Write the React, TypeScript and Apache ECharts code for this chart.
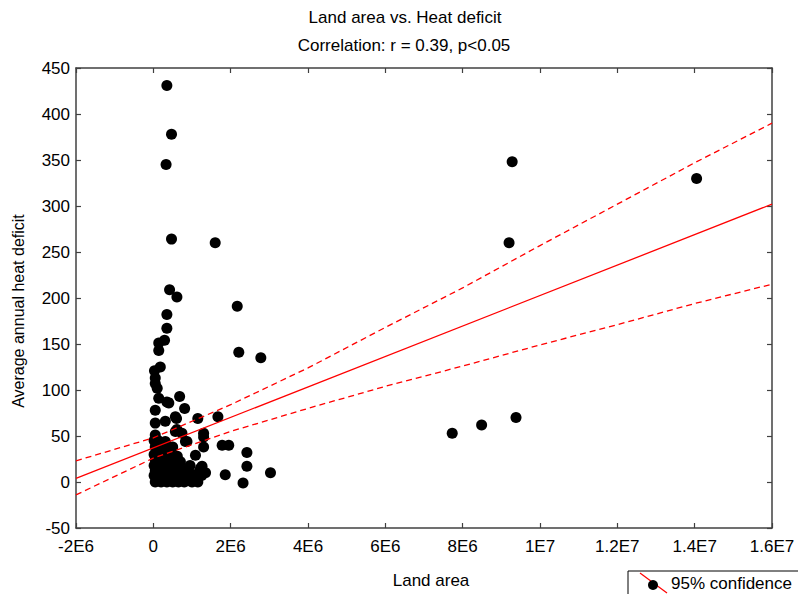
import React, { useEffect, useRef } from "react";
import * as echarts from "echarts";

// Scatter points: land area (raw units) and average annual heat deficit
const landArea: number[] = [
  0.35e6, 0.47e6, 0.33e6, 0.47e6, 1.6e6, 0.42e6, 0.61e6, 2.17e6, 0.35e6, 0.35e6,
  0.29e6, 0.14e6, 0.14e6, 2.21e6, 2.78e6, 0.18e6, 0.03e6, 0.05e6, 0.05e6, 0.1e6,
  0.14e6, 0.4e6, 0.68e6, 0.05e6, 0.81e6, 0.05e6, 0.31e6, 0.6e6, 1.15e6, 1.67e6,
  0.61e6, 0.74e6, 0.05e6, 1.3e6, 1.3e6, 0.83e6, 0.31e6, 1.3e6, 1.78e6, 1.95e6,
  2.42e6, 1.09e6, 0.7e6, 1.26e6, 2.42e6, 3.03e6, 1.86e6, 2.32e6, 1.35e6, 1.0e6,
  0.35e6, 0.57e6, 0.35e6, 0.57e6, 0.87e6, 1.22e6, 0.96e6,
  9.28e6, 14.05e6, 9.2e6, 7.73e6, 8.49e6, 9.38e6,
  // dense cluster near the origin
  0.05e6, 0.2e6, 0.35e6, 0.5e6, 0.65e6, 0.8e6, 1.0e6, 1.15e6,
  0.1e6, 0.28e6, 0.45e6, 0.6e6, 0.9e6,
  0.02e6, 0.15e6, 0.4e6, 0.55e6, 0.75e6, 1.1e6, 1.25e6,
  0.05e6, 0.2e6, 0.35e6, 0.5e6, 0.68e6, 0.85e6, 1.2e6,
  0.02e6, 0.15e6, 0.3e6, 0.45e6, 0.95e6,
  0.05e6, 0.2e6, 0.38e6, 0.55e6,
  0.02e6, 0.12e6, 0.25e6, 0.45e6,
  0.05e6, 0.18e6, 0.5e6,
  0.02e6, 0.12e6,
  0.25e6, 0.72e6, 0.88e6, 1.05e6, 0.42e6, 0.62e6, 0.28e6, 0.7e6, 0.58e6, 0.1e6, 0.33e6,
];
const heatDeficit: number[] = [
  431, 378, 345, 264, 260, 209, 201, 191, 182, 167,
  154, 151, 143, 141, 135, 125, 121, 113, 107, 102,
  91, 86, 93, 78, 80, 64, 66, 69, 69, 71,
  57, 53, 51, 53, 49, 44, 44, 38, 40, 40,
  32, 29, 22, 17, 17, 10, 8, -1, 10, 4,
  35, 71, 87, 55, 44, 15, 2,
  348, 330, 260, 53, 62, 70,
  0, 0, 0, 0, 0, 0, 0, 0,
  3, 3, 3, 3, 3,
  7, 7, 7, 7, 7, 7, 7,
  12, 12, 12, 12, 12, 12, 12,
  18, 18, 18, 18, 18,
  24, 24, 24, 24,
  30, 30, 30, 30,
  38, 38, 38,
  45, 45,
  5, 3, 9, 8, 22, 28, 40, 15, 18, 9, 27,
];

// Regression line and 95% confidence band
const fitX: number[] = [-2e6, 1.6e7];
const fitY: number[] = [4, 302];
const bandX: number[] = [-2e6, 0, 2e6, 4e6, 6e6, 8e6, 1e7, 1.2e7, 1.4e7, 1.6e7];
const upperBand: number[] = [23, 48, 84, 124, 168, 211, 257, 302, 347, 390];
const lowerBand: number[] = [-14, 26, 55, 80, 104, 126, 149, 171, 194, 215];

const titleText = "Land area vs. Heat deficit";
const subtitleText = "Correlation: r = 0.39, p<0.05";
const xName = "Land area";
const yName = "Average annual heat deficit";
const legendText = "95% confidence";

const FONT = "'Liberation Sans', Arial, sans-serif";

function sci(v: number): string {
  if (v === 0) return "0";
  const e = Math.floor(Math.log10(Math.abs(v)) + 1e-9);
  const m = v / Math.pow(10, e);
  return `${+m.toFixed(2)}E${e}`;
}

export default function App() {
  const ref = useRef<HTMLDivElement>(null);
  useEffect(() => {
    if (!ref.current) return;
    const chart = echarts.init(ref.current, null, { renderer: "svg" });
    const axisLine = { show: true, onZero: false, lineStyle: { color: "#404040", width: 1.5 } };
    const tick = { show: true, inside: true, length: 5, lineStyle: { color: "#404040", width: 1.2 } };
    const xBase = { type: "value", min: -2e6, max: 1.6e7, interval: 2e6, splitLine: { show: false }, axisLine, axisTick: tick };
    const yBase = { type: "value", min: -50, max: 450, interval: 50, splitLine: { show: false }, axisLine, axisTick: tick };
    chart.setOption({
      animation: false,
      grid: { left: 76, top: 68, width: 696, height: 460, containLabel: false },
      xAxis: [
        { ...xBase, position: "bottom", axisLabel: { color: "#000", fontSize: 17, fontFamily: FONT, margin: 10, formatter: (v: number) => sci(v) } },
        { ...xBase, position: "top", axisLabel: { show: false } },
      ],
      yAxis: [
        { ...yBase, position: "left", axisLabel: { color: "#000", fontSize: 17, fontFamily: FONT, margin: 6 } },
        { ...yBase, position: "right", axisLabel: { show: false } },
      ],
      series: [
        {
          type: "scatter",
          data: landArea.map((x, i) => [x, heatDeficit[i]]),
          symbolSize: 11,
          itemStyle: { color: "#000", opacity: 1 },
          z: 2,
        },
        {
          type: "line",
          data: fitX.map((x, i) => [x, fitY[i]]),
          showSymbol: false,
          lineStyle: { color: "#ff0000", width: 1.3 },
          z: 3,
        },
        {
          type: "line",
          data: bandX.map((x, i) => [x, upperBand[i]]),
          showSymbol: false,
          lineStyle: { color: "#ff0000", width: 1.3, type: [6, 4] },
          z: 3,
        },
        {
          type: "line",
          data: bandX.map((x, i) => [x, lowerBand[i]]),
          showSymbol: false,
          lineStyle: { color: "#ff0000", width: 1.3, type: [6, 4] },
          z: 3,
        },
      ],
      graphic: [
        { type: "text", x: 405, y: 17, style: { text: titleText, fontSize: 17, fontFamily: FONT, fill: "#000", align: "center", verticalAlign: "middle" } },
        { type: "text", x: 404, y: 45, style: { text: subtitleText, fontSize: 17, fontFamily: FONT, fill: "#000", align: "center", verticalAlign: "middle" } },
        { type: "text", x: 431, y: 580, style: { text: xName, fontSize: 17, fontFamily: FONT, fill: "#000", align: "center", verticalAlign: "middle" } },
        { type: "text", x: 18, y: 311, rotation: Math.PI / 2, style: { text: yName, fontSize: 16, fontFamily: FONT, fill: "#000", align: "center", verticalAlign: "middle" } },
        { type: "rect", shape: { x: 628, y: 571, width: 200, height: 40 }, style: { fill: "#fff", stroke: "#000", lineWidth: 1 } },
        { type: "line", shape: { x1: 640, y1: 573, x2: 667, y2: 593 }, style: { stroke: "#ff0000", lineWidth: 1.2 } },
        { type: "circle", shape: { cx: 653, cy: 585, r: 5 }, style: { fill: "#000" } },
        { type: "text", x: 671, y: 583, style: { text: legendText, fontSize: 17, fontFamily: FONT, fill: "#000", align: "left", verticalAlign: "middle" } },
      ],
    });
    return () => chart.dispose();
  }, []);
  return <div ref={ref} style={{ position: "fixed", left: 0, top: 0, width: 798, height: 594, background: "#fff" }} />;
}
